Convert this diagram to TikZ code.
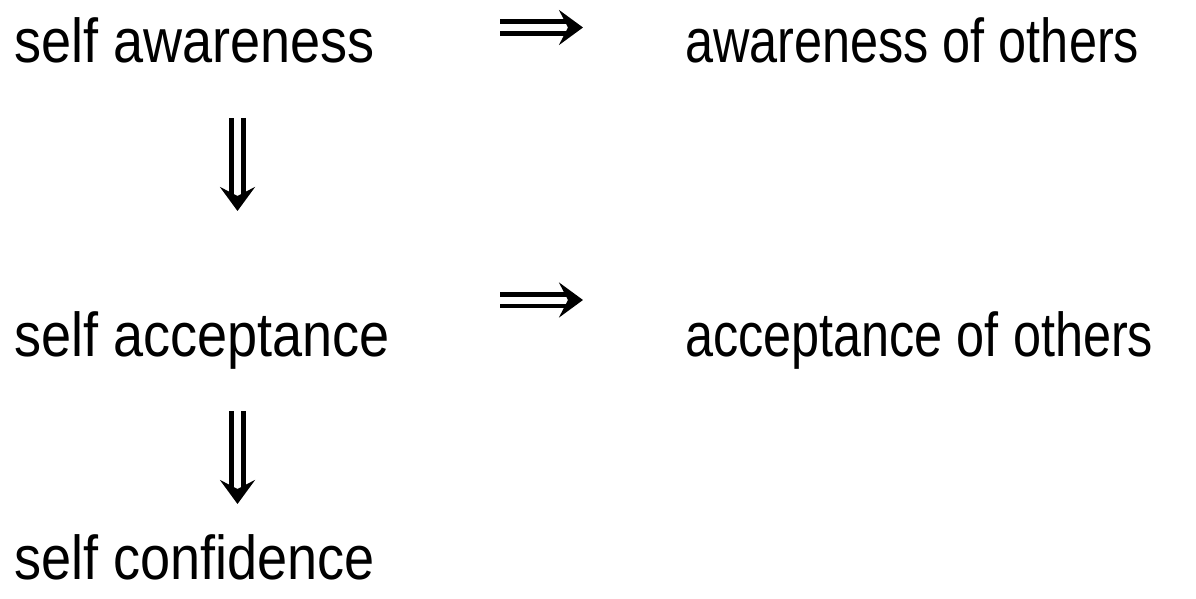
\documentclass[tikz,border=0pt]{standalone}
\usepackage{fontspec}
\setmainfont{Liberation Sans}[FakeStretch=0.872]
\newfontfamily\narrowfont{Liberation Sans}[FakeStretch=0.813]
\usetikzlibrary{arrows.meta}
\tikzset{
  lbl/.style={anchor=base west, inner sep=0pt, font=\fontsize{62}{70}\selectfont},
  rlbl/.style={lbl, font=\narrowfont\fontsize{62}{70}\selectfont},
  dblarrow/.style={double, double distance=7pt, line width=4.6pt,
    -{Stealth[length=24pt, width=35pt, inset=9pt]}}
}
\begin{document}
\begin{tikzpicture}[x=1pt,y=-1pt]
\useasboundingbox (0,0) rectangle (1196,599);
\node[lbl] (sa) at (14,63) {self awareness};
\node[rlbl] (ao) at (685,63) {awareness of others};
\node[lbl] (sac) at (14,356) {self acceptance};
\node[rlbl] (aco) at (685,356) {acceptance of others};
\node[lbl] (sc) at (14,579) {self confidence};
\coordinate (r1s) at (500,27.5);
\coordinate (r1e) at (583,27.5);
\coordinate (r2s) at (500,300);
\coordinate (r2e) at (583,300);
\coordinate (d1s) at (237.5,118);
\coordinate (d1e) at (237.5,211);
\coordinate (d2s) at (237.5,411);
\coordinate (d2e) at (237.5,504);
\draw[dblarrow] (r1s) -- (r1e);
\draw[dblarrow] (r2s) -- (r2e);
\draw[dblarrow] (d1s) -- (d1e);
\draw[dblarrow] (d2s) -- (d2e);
\end{tikzpicture}
\end{document}
